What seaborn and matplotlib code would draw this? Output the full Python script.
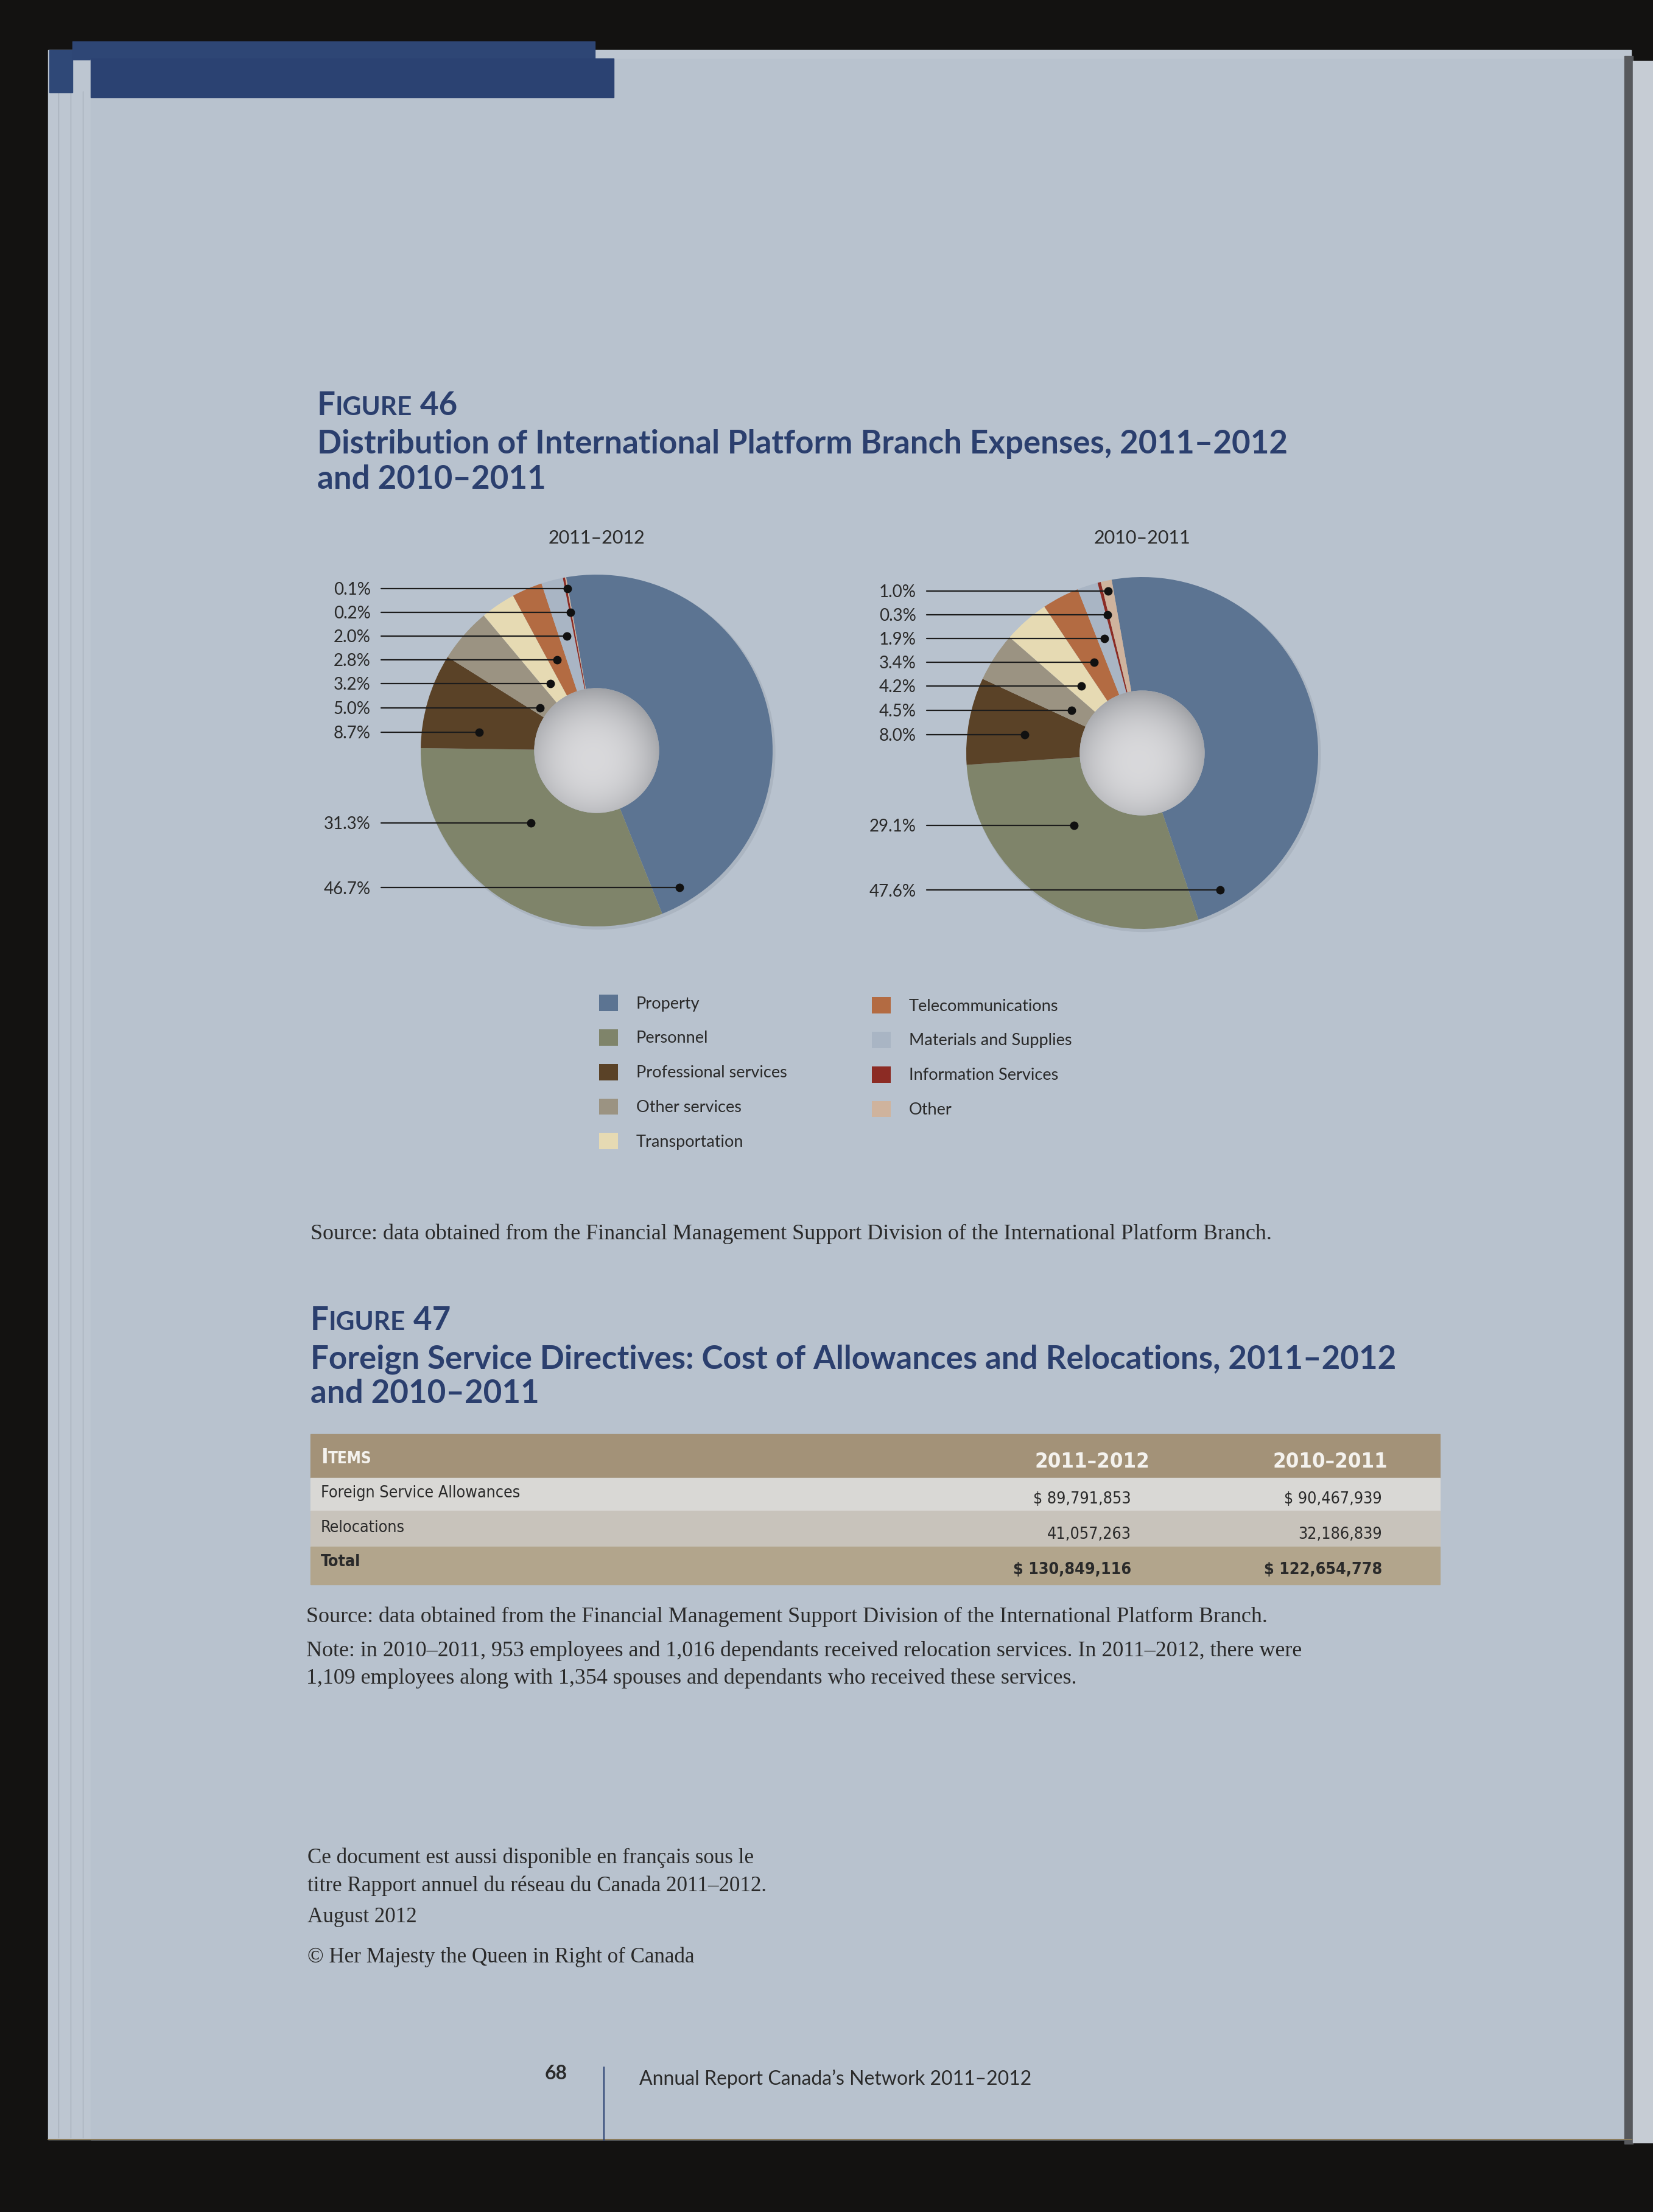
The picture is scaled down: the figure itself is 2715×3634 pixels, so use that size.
import numpy as np
import pandas as pd
import matplotlib
matplotlib.use("Agg")
import matplotlib.pyplot as plt
import seaborn as sns
from matplotlib import font_manager as fm
from matplotlib.patches import Rectangle, Circle

# ---- data ---------------------------------------------------------------
categories = ["Property", "Personnel", "Professional services", "Other services",
              "Transportation", "Telecommunications", "Materials and Supplies",
              "Information Services", "Other"]
share_2011_12 = [46.7, 31.3, 8.7, 5.0, 3.2, 2.8, 2.0, 0.2, 0.1]
share_2010_11 = [47.6, 29.1, 8.0, 4.5, 4.2, 3.4, 1.9, 0.3, 1.0]
pie_titles = ["2011–2012", "2010–2011"]

table_items = ["Foreign Service Allowances", "Relocations", "Total"]
cost_2011_12 = [89791853, 41057263, 130849116]
cost_2010_11 = [90467939, 32186839, 122654778]
table_cols = ["2011–2012", "2010–2011"]

# ---- style --------------------------------------------------------------
W, H = 2715, 3634
sns.set_theme(style="white")
plt.rcParams["font.family"] = ["Lato", "DejaVu Sans"]
palette = sns.color_palette(["#5c7492", "#7f846a", "#5a4227", "#9b9382", "#e6dab3",
                             "#b36b42", "#a9b5c4", "#8c2b24", "#cfb39d"])
TITLE_C = "#2b3f6e"
TEXT_C = "#2a2a2a"
SERIF = ["Liberation Serif", "DejaVu Serif"]
HOLE = 0.355


def narrow_font(bold):
    # a condensed sans for the table, if one is installed
    want = 700 if bold else 400
    best = None
    for f in fm.fontManager.ttflist:
        nm = f.name.lower()
        cond = ("narrow" in nm or "condensed" in nm
                or f.stretch in ("condensed", "semi-condensed", "extra-condensed"))
        if not cond or "mono" in nm or "serif" in nm or f.style != "normal":
            continue
        w = f.weight if isinstance(f.weight, (int, float)) else fm.weight_dict.get(f.weight, 400)
        score = abs(w - want)
        if best is None or score < best[0]:
            best = (score, f.fname)
    if best is not None:
        return fm.FontProperties(fname=best[1]), True
    return fm.FontProperties(family="Liberation Sans", weight="bold" if bold else "normal"), False


NARROW, HAS_NARROW = narrow_font(False)
NARROW_B, _ = narrow_font(True)
WIDEN = 1.0 if HAS_NARROW else 1.1

fig = plt.figure(figsize=(W / 100, H / 100), dpi=100)
fig.patch.set_facecolor("#131211")
renderer = fig.canvas.get_renderer()

page = fig.add_axes([0, 0, 1, 1])
page.set_xlim(0, W)
page.set_ylim(H, 0)
page.axis("off")

# sheets of paper, blue band, gutter
page.add_patch(Rectangle((79, 82), 2600, 3433, color="#bdc6d1", zorder=0))
for xe in (96, 116, 136):
    page.plot([xe, xe], [150, 3512], color="#a7b0bb", lw=1, zorder=1)
page.add_patch(Rectangle((81, 82), 38, 70, color="#2f4877", zorder=1))
page.add_patch(Rectangle((119, 68), 858, 30, color="#2e4675", zorder=1))
page.add_patch(Rectangle((149, 97), 2522, 3418, color="#b8c2ce", zorder=1))
page.add_patch(Rectangle((149, 96), 859, 64, color="#2b4272", zorder=2))
page.add_patch(Rectangle((2668, 92), 14, 3430, color="#57595d", zorder=2))
page.add_patch(Rectangle((2682, 100), 33, 3420, color="#c6ccd4", zorder=2))
page.plot([79, 2680], [3515, 3515], color="#8a7b5c", lw=1.5, zorder=2)


def put(x, y, s, size, **kw):
    kw.setdefault("va", "baseline")
    return page.text(x, y, s, fontsize=size, zorder=5, **kw)


def fit(t, width):
    bb = t.get_window_extent(renderer)
    t.set_fontsize(t.get_fontsize() * width / bb.width)
    return t.get_fontsize()


def smallcaps(x, y, big, small, rest, size, ratio=0.8, **kw):
    t = put(x, y, big, size, **kw)
    x = t.get_window_extent(renderer).x1
    t = put(x, y, small, size * ratio, **kw)
    x = t.get_window_extent(renderer).x1
    if rest:
        put(x, y, rest, size, **kw)


# ---- figure 46 titles ---------------------------------------------------
t = put(521, 745, "Distribution of International Platform Branch Expenses, 2011–2012",
        31, weight="bold", color=TITLE_C)
TS = fit(t, 1594)
put(521, 803, "and 2010–2011", TS, weight="bold", color=TITLE_C)
smallcaps(521, 682, "F", "IGURE", " 46", TS, weight="bold", color=TITLE_C)


# ---- donuts -------------------------------------------------------------
def chord_mid(y, lo, hi):
    xs = np.linspace(-1, 1, 4001)
    rr = np.hypot(xs, y)
    ang = np.degrees(np.arctan2(y, xs))
    inside = (rr <= 1) & (rr >= HOLE) & (((ang - lo) % 360) <= (hi - lo))
    if inside.any():
        return xs[inside].mean()
    mid = np.radians((lo + hi) / 2)
    return 0.7 * np.cos(mid)


label_y = [0.92, 0.785, 0.65, 0.515, 0.38, 0.243, 0.105, -0.412, -0.78]


def donut(cx, cy, r, values, title, L=1.6):
    ax = fig.add_axes([(cx - L * r) / W, 1 - (cy + L * r) / H, 2 * L * r / W, 2 * L * r / H])
    ax.add_patch(Circle((0.01, -0.012), 1.006, color="#7f8894", alpha=0.22, lw=0, zorder=0))
    wedges, _ = ax.pie(values, colors=palette, startangle=100, counterclock=False,
                       radius=1, wedgeprops=dict(width=1 - HOLE, linewidth=0))
    # shaded hole
    g = np.linspace(-HOLE, HOLE, 300)
    gx, gy = np.meshgrid(g, g)
    d = np.hypot(gx + 0.02, gy + 0.05) / HOLE
    shade = np.clip(1 - 0.5 * d ** 2.4, 0, 1)[..., None]
    dark = np.array([0.52, 0.53, 0.55])
    light = np.array([0.85, 0.85, 0.86])
    im = ax.imshow(dark + (light - dark) * shade, extent=(-HOLE, HOLE, -HOLE, HOLE),
                   origin="lower", zorder=3)
    im.set_clip_path(Circle((0, 0), HOLE, transform=ax.transData))

    order = list(range(len(values)))[::-1]
    for idx, y in zip(order, label_y):
        w = wedges[idx]
        x = chord_mid(y, w.theta1, w.theta2)
        ax.plot([-1.225, x], [y, y], color="#1c1c1c", lw=1.6, clip_on=False, zorder=5)
        ax.plot(x, y, "o", color="#111111", ms=9, clip_on=False, zorder=6)
        ax.text(-1.285, y - 0.035, f"{values[idx]:.1f}%", ha="right", va="baseline",
                fontsize=20, color=TEXT_C)
    ax.set_xlim(-L, L)
    ax.set_ylim(-L, L)
    ax.set_aspect("equal")
    ax.axis("off")
    put(cx, 893, title, 22, ha="center", color=TEXT_C)
    return wedges


w1 = donut(980, 1233, 289, share_2011_12, pie_titles[0])
w2 = donut(1876, 1237, 289, share_2010_11, pie_titles[1])

# legend in two columns
leg_kw = dict(loc="upper left", frameon=False, fontsize=19.5, handlelength=1.15,
              handleheight=1.15, handletextpad=1.1, labelspacing=1.08, borderpad=0,
              borderaxespad=0, bbox_transform=page.transData, labelcolor=TEXT_C)
leg1 = page.legend(w1[:5], categories[:5], bbox_to_anchor=(984, 1634), **leg_kw)
page.add_artist(leg1)
page.legend(w1[5:], categories[5:], bbox_to_anchor=(1432, 1638), **leg_kw)

# ---- sources / figure 47 ------------------------------------------------
src = "Source: data obtained from the Financial Management Support Division of the International Platform Branch."
t = put(510, 2036, src, 24, family=SERIF, color=TEXT_C)
SS = fit(t, 1582)

put(510, 2248, "Foreign Service Directives: Cost of Allowances and Relocations, 2011–2012",
    TS, weight="bold", color=TITLE_C)
put(510, 2305, "and 2010–2011", TS, weight="bold", color=TITLE_C)
smallcaps(510, 2185, "F", "IGURE", " 47", TS, weight="bold", color=TITLE_C)

# ---- table --------------------------------------------------------------
bands = [(2356, 2428, "#a39278"), (2428, 2482, "#d9d8d5"),
         (2482, 2541, "#c8c3bb"), (2541, 2603, "#b2a58c")]
for y0, y1, c in bands:
    page.add_patch(Rectangle((510, y0), 1855, y1 - y0, color=c, zorder=3))

HEAD_C = "#f4f2ee"
t = put(1888, 2411, table_cols[0], 30, ha="right", fontproperties=NARROW_B, color=HEAD_C)
HS = fit(t, 188 * WIDEN)
put(2279, 2411, table_cols[1], HS, ha="right", fontproperties=NARROW_B, color=HEAD_C)
smallcaps(527, 2404, "I", "TEMS", "", HS, ratio=0.75, fontproperties=NARROW_B, color=HEAD_C)

df = pd.DataFrame({"item": table_items, "c1": cost_2011_12, "c2": cost_2010_11})
col_right = [1858, 2270]
label_base = [2460, 2517, 2573]
value_base = [2470, 2528, 2586]
t = put(527, label_base[0], df["item"][0], 21, fontproperties=NARROW, color=TEXT_C)
BS = fit(t, 328 * WIDEN)
for i, row in df.iterrows():
    fp = NARROW_B if row["item"] == "Total" else NARROW
    if i > 0:
        put(527, label_base[i], row["item"], BS, fontproperties=fp, color=TEXT_C)
    for v, xr in zip((row["c1"], row["c2"]), col_right):
        s = f"{v:,}" if i == 1 else f"$ {v:,}"
        put(xr, value_base[i], s, BS, ha="right", fontproperties=fp, color=TEXT_C)

put(503, 2665, src, SS, family=SERIF, color=TEXT_C)
put(503, 2721, "Note: in 2010–2011, 953 employees and 1,016 dependants received relocation "
    "services. In 2011–2012, there were", SS, family=SERIF, color=TEXT_C)
put(503, 2766, "1,109 employees along with 1,354 spouses and dependants who received these services.",
    SS, family=SERIF, color=TEXT_C)

# ---- footer -------------------------------------------------------------
t = put(505, 3061, "Ce document est aussi disponible en français sous le", 24,
        family=SERIF, color=TEXT_C)
FS = fit(t, 734)
put(505, 3107, "titre Rapport annuel du réseau du Canada 2011–2012.", FS, family=SERIF, color=TEXT_C)
put(505, 3158, "August 2012", FS, family=SERIF, color=TEXT_C)
put(505, 3224, "© Her Majesty the Queen in Right of Canada", FS, family=SERIF, color=TEXT_C)

t = put(1050, 3425, "Annual Report Canada’s Network 2011–2012", 22, color=TEXT_C)
PS = fit(t, 642)
put(932, 3416, "68", PS, ha="right", weight="bold", color=TEXT_C)
page.plot([992, 992], [3396, 3516], color="#2b4272", lw=1.5, zorder=5)

fig.savefig("out.png", dpi=100, facecolor=fig.get_facecolor())
